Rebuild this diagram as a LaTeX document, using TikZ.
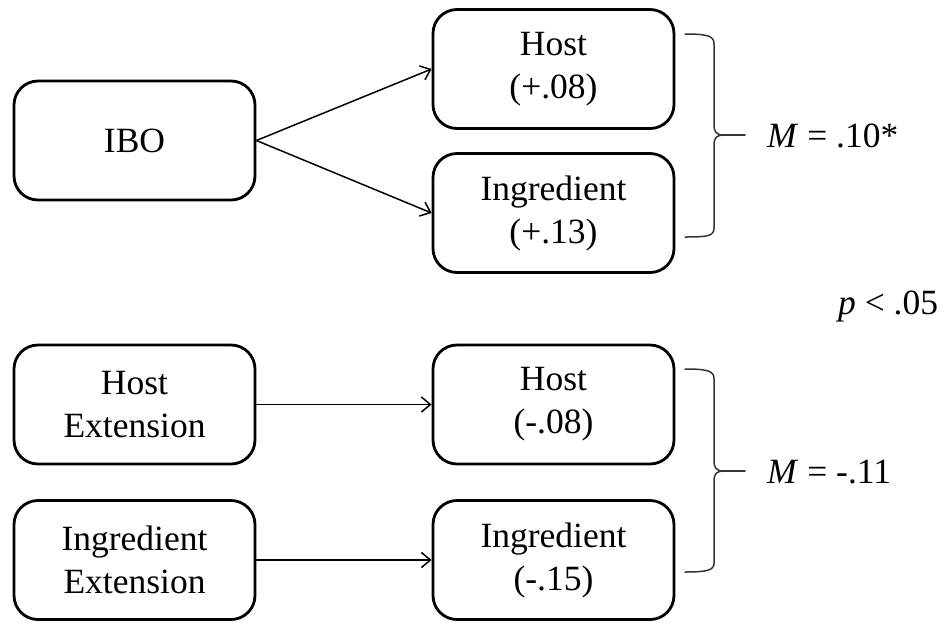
\documentclass[tikz,border=0pt]{standalone}
\usepackage{fontspec}
\setmainfont{Liberation Serif}
\usetikzlibrary{arrows.meta}
\begin{document}
\begin{tikzpicture}[x=1pt,y=-1pt,
  box/.style={draw, line width=2.8pt, rounded corners=24pt,
    minimum width=241pt, minimum height=119pt, inner sep=0pt,
    align=center, font=\fontsize{35.5}{43}\selectfont},
  link/.style={line width=1.5pt, -{Straight Barb[length=9pt,width=15pt,line width=1.5pt]}},
  brace/.style={line width=1.5pt, draw=black!80, line cap=round, line join=round},
  note/.style={anchor=base west, inner sep=0pt, font=\fontsize{35.5}{43}\selectfont}]
\useasboundingbox (0,0) rectangle (948,622);

% left column
\node[box] (ibo)  at (134.5,140.5) {IBO};
\node[box] (hext) at (134.5,404.5) {Host\\Extension};
\node[box] (iext) at (134.5,560)   {Ingredient\\Extension};

% right column
\node[box] (hosta) at (553.5,69)    {Host\\(+.08)};
\node[box] (inga)  at (553.5,213)   {Ingredient\\(+.13)};
\node[box] (hostb) at (553.5,404.5) {Host\\(-.08)};
\node[box] (ingb)  at (553.5,560)   {Ingredient\\(-.15)};

% paths
\draw[link] (ibo.east) -- (hosta.west);
\draw[link] (ibo.east) -- (inga.west);
\draw[link] (hext.east) -- (hostb.west);
\draw[link] (iext.east) -- (ingb.west);

% upper brace
\coordinate (bA) at (745,135);
\draw[brace] (685,34) .. controls (708,34) and (714,36) .. (714,44) -- (714,124)
  .. controls (714,132) and (716,135) .. (724,135)
  .. controls (716,135) and (714,138) .. (714,146) -- (714,228)
  .. controls (714,236) and (708,237) .. (685,237);
\draw[brace] (724,135) -- (bA);

% lower brace
\coordinate (bB) at (745,471);
\draw[brace] (685,369) .. controls (708,369) and (714,371) .. (714,379) -- (714,460)
  .. controls (714,468) and (716,471) .. (724,471)
  .. controls (716,471) and (714,474) .. (714,482) -- (714,563)
  .. controls (714,570) and (708,572) .. (685,572);
\draw[brace] (724,471) -- (bB);

% summary labels
\node[note] (ma) at (767,147) {\textit{M\/} = .10*};
\node[note] (mb) at (767,483) {\textit{M\/} = -.11};
\node[note] (pv) at (838,314) {\textit{p} < .05};
\end{tikzpicture}
\end{document}
